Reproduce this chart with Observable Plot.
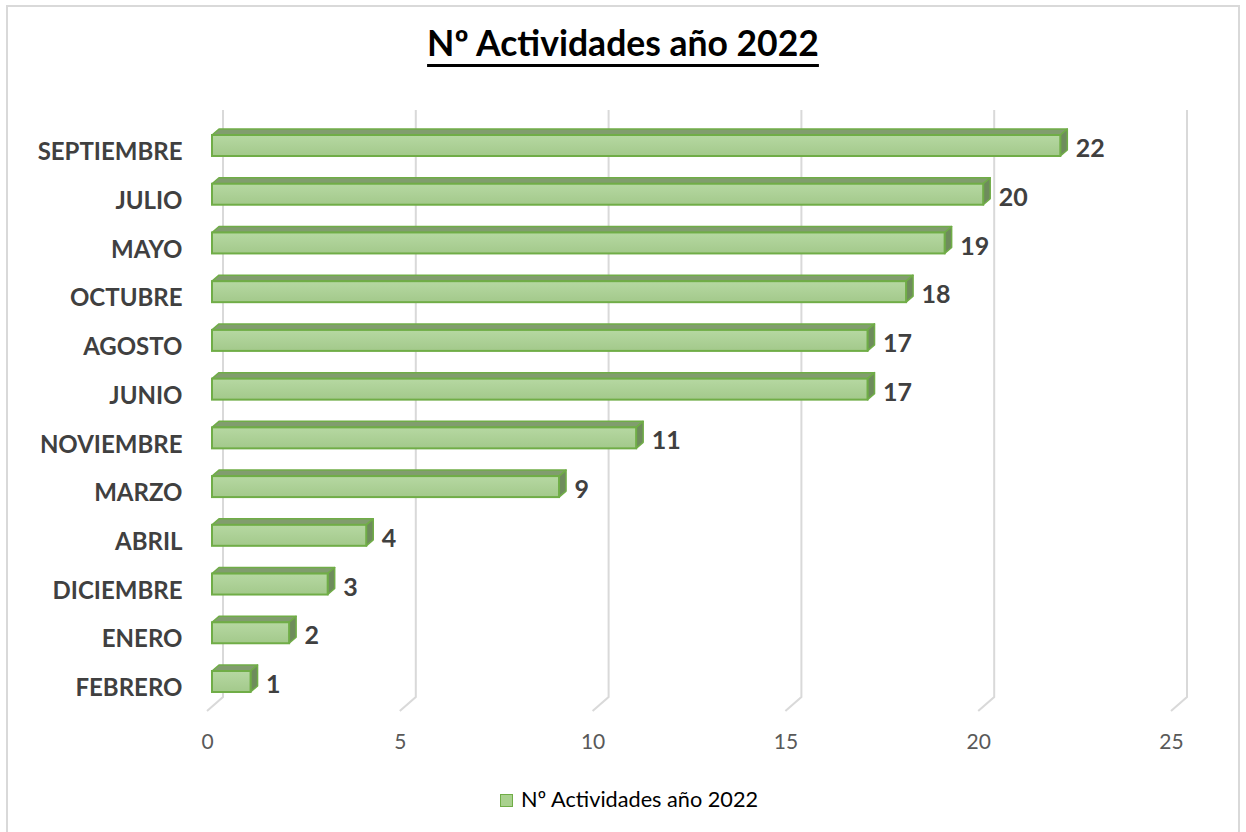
<!DOCTYPE html>
<html>
<head>
<meta charset="utf-8">
<script src="https://cdn.jsdelivr.net/npm/d3@7"></script>
<script src="https://cdn.jsdelivr.net/npm/@observablehq/plot@0.6"></script>
<style>
  html, body { margin: 0; padding: 0; background: #fff; }
  body { width: 1246px; height: 832px; position: relative; overflow: hidden; font-family: Lato, "Open Sans", sans-serif; }
  #frame { position: absolute; left: 6px; top: 5px; width: 1234px; height: 840px; border: 2px solid #d9d9d9; box-sizing: border-box; }
  #title { position: absolute; left: 0; width: 1246px; top: 22px; text-align: center; font-size: 35.5px; line-height: 42px; font-weight: bold; color: #000;
           text-decoration: underline; text-decoration-thickness: 3px; text-underline-offset: 8px; }
  #chart { position: absolute; left: 0; top: 95px; }
  #legend { position: absolute; left: 500px; top: 786px; white-space: nowrap; font-size: 21.7px; line-height: 26px; color: #000; }
  #legend .sw { display: inline-block; width: 11px; height: 11px; background: #a9d18e; border: 1px solid #70ad47; margin-right: 8px; vertical-align: 0px; }
</style>
</head>
<body>
<div id="frame"></div>
<div id="title">Nº Actividades año 2022</div>
<div id="chart"></div>
<div id="legend"><span class="sw"></span><span id="legendText"></span></div>
<script>
const months = ["SEPTIEMBRE", "JULIO", "MAYO", "OCTUBRE", "AGOSTO", "JUNIO", "NOVIEMBRE", "MARZO", "ABRIL", "DICIEMBRE", "ENERO", "FEBRERO"];
const values = [22, 20, 19, 18, 17, 17, 11, 9, 4, 3, 2, 1];
const xTicks = [0, 5, 10, 15, 20, 25];
const seriesName = "Nº Actividades año 2022";

document.getElementById("legendText").textContent = seriesName;

const data = months.map((m, i) => ({month: m, value: values[i]}));

const PAD_INNER = 0.569, PAD_OUTER = 0.57;
// 3D look: depth offset in pixels
const DX = 7, DY = 6;
// layout targets (SVG pixels): top of first and last band
const FIRST_BAND = 40, LAST_BAND = 576;

const probe = {first: NaN, last: NaN};

const cubes = (index, scales, vals, dimensions) => {
  const x = scales.x, y = scales.y;
  const step = y(months[1]) - y(months[0]);
  let bw = (typeof y.bandwidth === "function") ? y.bandwidth() : NaN;
  if (!(bw > 0)) bw = step * (1 - PAD_INNER);
  probe.first = y(months[0]);
  probe.last = y(months[months.length - 1]);

  const g = d3.create("svg:g");
  const defs = g.append("defs");
  const grad = defs.append("linearGradient").attr("id", "frontGrad").attr("x1", 0).attr("y1", 0).attr("x2", 0).attr("y2", 1);
  grad.append("stop").attr("offset", "0%").attr("stop-color", "#b6d8a2");
  grad.append("stop").attr("offset", "100%").attr("stop-color", "#a3c98b");

  // back-wall gridlines folding onto the floor
  const top = dimensions.marginTop + 3;
  const floor = dimensions.height - dimensions.marginBottom - 23;
  for (const t of xTicks) {
    const bx = x(t) + 11;
    g.append("path")
      .attr("d", `M${bx},${top}L${bx},${floor}L${bx - 16},${floor + 14}`)
      .attr("fill", "none").attr("stroke", "#d9d9d9").attr("stroke-width", 2);
  }

  for (const d of data) {
    const x0 = x(0), x1 = x(d.value), y0 = y(d.month), y1 = y0 + bw;
    // top face
    g.append("path")
      .attr("d", `M${x0},${y0}L${x0 + DX},${y0 - DY}L${x1 + DX},${y0 - DY}L${x1},${y0}Z`)
      .attr("fill", "#819d6e").attr("stroke", "#70ad47").attr("stroke-width", 1.5).attr("stroke-linejoin", "round");
    // right face
    g.append("path")
      .attr("d", `M${x1},${y0}L${x1 + DX},${y0 - DY}L${x1 + DX},${y1 - DY}L${x1},${y1}Z`)
      .attr("fill", "#6e8c5c").attr("stroke", "#70ad47").attr("stroke-width", 1.5).attr("stroke-linejoin", "round");
    // front face
    g.append("rect")
      .attr("x", x0).attr("y", y0).attr("width", x1 - x0).attr("height", bw)
      .attr("fill", "url(#frontGrad)").attr("stroke", "#70ad47").attr("stroke-width", 2);
  }
  return g.node();
};

function makeChart(range) {
  return Plot.plot({
    width: 1246,
    height: 680,
    marginLeft: 212,
    marginRight: 70,
    marginTop: 12,
    marginBottom: 55,
    style: {fontFamily: "Lato, 'Open Sans', sans-serif", background: "transparent"},
    x: {domain: [0, 25], axis: null},
    y: {domain: months, range, paddingInner: PAD_INNER, paddingOuter: PAD_OUTER, align: 0.5, round: false, axis: null},
    marks: [
      cubes,
      Plot.axisX({ticks: xTicks, tickSize: 0, tickPadding: 14, dx: -5, fontSize: 21, fill: "#595959", label: null}),
      Plot.axisY({tickSize: 0, tickPadding: 30, dy: 17, fontSize: 24, fontWeight: "bold", fill: "#404040", label: null}),
      Plot.text(data, {x: "value", y: "month", text: d => String(d.value), dx: 15, dy: 13.6, textAnchor: "start",
                       fontSize: 25, fontWeight: "bold", fill: "#404040"})
    ]
  });
}

// Calibrate the band range so that the rendered bands land where the reference has them.
let r0 = 12.2, r1 = 624.8;
let chart = makeChart([r0, r1]);
for (let k = 0; k < 8; k++) {
  const F = probe.first, L = probe.last, span = L - F;
  if (!(span > 0)) break;
  if (Math.abs(FIRST_BAND - F) < 0.25 && Math.abs(LAST_BAND - L) < 0.25) break;
  const s = (LAST_BAND - FIRST_BAND) / span;
  const mid = (r0 + r1) / 2;
  const half = (r1 - r0) / 2 * s;
  const Fp = mid + (F - mid) * s;
  const shift = FIRST_BAND - Fp;
  r0 = mid - half + shift;
  r1 = mid + half + shift;
  chart = makeChart([r0, r1]);
}
document.getElementById("chart").appendChild(chart);
</script>
</body>
</html>
